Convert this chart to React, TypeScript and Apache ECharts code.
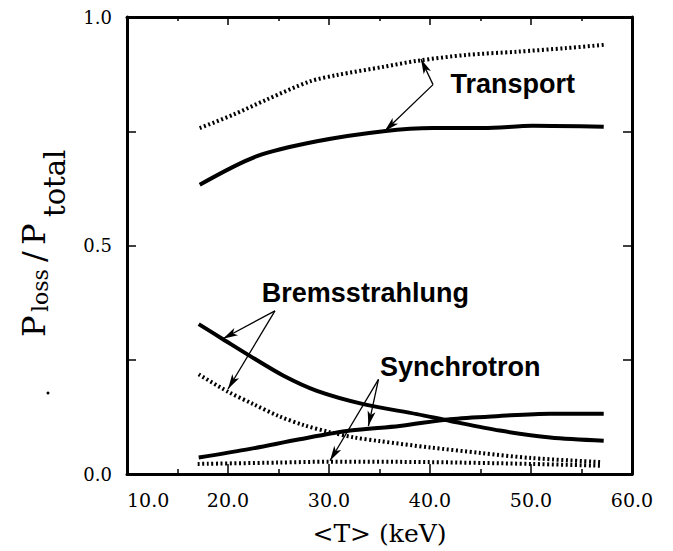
import React, { useEffect, useRef } from "react";
import * as echarts from "echarts";

// ---- data (x = <T> in keV, y = P_loss / P_total) ----
const transportDottedX = [17.2, 20.5, 23.8, 28.1, 30.8, 35.4, 38.7, 43.6, 48.6, 53.5, 57.2];
const transportDottedY = [0.757, 0.786, 0.819, 0.859, 0.873, 0.891, 0.904, 0.917, 0.924, 0.932, 0.939];

const transportSolidX = [17.2, 22.8, 28.8, 35.4, 40.3, 45.3, 50.2, 57.2];
const transportSolidY = [0.633, 0.695, 0.728, 0.75, 0.757, 0.757, 0.762, 0.76];

const bremsSolidX = [17.1, 19.5, 22.2, 25.5, 28.8, 33.4, 38.7, 42.0, 46.9, 51.9, 57.2];
const bremsSolidY = [0.328, 0.295, 0.258, 0.215, 0.182, 0.153, 0.131, 0.116, 0.095, 0.08, 0.073];

const bremsDottedX = [17.1, 20, 22.5, 25, 27.5, 30, 32.5, 35, 40, 45, 50, 57];
const bremsDottedY = [0.218, 0.18, 0.153, 0.127, 0.107, 0.092, 0.08, 0.072, 0.058, 0.046, 0.035, 0.026];

const synchSolidX = [17.1, 22.2, 27.1, 32.1, 37.0, 42.0, 46.9, 51.9, 57.2];
const synchSolidY = [0.036, 0.055, 0.076, 0.095, 0.105, 0.12, 0.127, 0.132, 0.132];

const synchDottedX = [17, 25, 30, 40, 50, 57];
const synchDottedY = [0.022, 0.025, 0.027, 0.026, 0.022, 0.018];

const xTicks = [10, 20, 30, 40, 50, 60];
const yTickLabels = [0, 0.5, 1.0];

// annotation labels and their arrows (data coordinates)
const labelNames = ["Transport", "Bremsstrahlung", "Synchrotron"];
const labelX = [48.2, 33.6, 43.0];
const labelY = [0.854, 0.395, 0.234];
// arrows: [fromX, fromY, toX, toY]
const transportArrows = [
  [40.3, 0.852, 39.1, 0.908],
  [40.3, 0.852, 35.5, 0.75],
];
const bremsArrows = [
  [24.65, 0.357, 19.5, 0.296],
  [24.65, 0.357, 20.0, 0.186],
];
const synchArrows = [
  [34.9, 0.207, 33.9, 0.105],
  [34.9, 0.207, 30.1, 0.029],
];

const zip = (xs: number[], ys: number[]) => xs.map((x, i) => [x, ys[i]]);

const arrowMark = (arrows: number[][]) => ({
  silent: true,
  symbol: ["none", "arrow"],
  symbolSize: [6, 15],
  lineStyle: { color: "#000", width: 1.3, type: "solid" },
  label: { show: false },
  emphasis: { disabled: true },
  data: arrows.map((a) => [{ coord: [a[0], a[1]] }, { coord: [a[2], a[3]] }]),
});

const solid = (name: string, xs: number[], ys: number[], arrows?: number[][]) => ({
  name,
  type: "line",
  data: zip(xs, ys),
  symbol: "none",
  smooth: 0.3,
  lineStyle: { color: "#000", width: 4, type: "solid" },
  markLine: arrows ? arrowMark(arrows) : undefined,
});

const dotted = (name: string, xs: number[], ys: number[]) => ({
  name,
  type: "line",
  data: zip(xs, ys),
  symbol: "none",
  smooth: 0.3,
  lineStyle: { color: "#000", width: 4, type: [2, 2.6], cap: "butt" },
});

const serif = "'DejaVu Serif', 'Liberation Serif', serif";

export default function App() {
  const ref = useRef<HTMLDivElement>(null);
  useEffect(() => {
    if (!ref.current) return;
    const chart = echarts.init(ref.current, undefined, { renderer: "svg" });
    const frameLine = { show: true, onZero: false, lineStyle: { color: "#000", width: 3 } };
    const axisCommon = {
      type: "value",
      min: 10,
      max: 60,
      interval: 10,
      splitLine: { show: false },
      minorSplitLine: { show: false },
      axisLine: frameLine,
    };
    const yCommon = {
      type: "value",
      min: 0,
      max: 1,
      interval: 0.25,
      splitLine: { show: false },
      axisLine: frameLine,
      axisTick: { show: true, inside: true, length: 9, lineStyle: { color: "#000", width: 1.5 } },
    };
    chart.setOption({
      animation: false,
      backgroundColor: "#fff",
      grid: {
        left: 127,
        right: 41,
        top: 17,
        bottom: 76,
        show: false,
      },
      xAxis: [
        {
          ...axisCommon,
          position: "bottom",
          axisTick: { show: true, inside: true, length: 10, lineStyle: { color: "#000", width: 1.5 } },
          minorTick: { show: true, splitNumber: 2, length: 5, lineStyle: { color: "#000", width: 1.5 } },
          axisLabel: {
            color: "#000",
            fontFamily: serif,
            fontSize: 19,
            margin: 16,
            alignMinLabel: "left",
            formatter: (v: number) => (xTicks.includes(v) ? v.toFixed(1) : ""),
          },
          name: "<T> (keV)",
          nameLocation: "middle",
          nameGap: 47,
          nameTextStyle: { color: "#000", fontFamily: serif, fontSize: 25 },
        },
        {
          ...axisCommon,
          position: "top",
          axisTick: { show: true, inside: true, length: 8, lineStyle: { color: "#000", width: 1.5 } },
          minorTick: { show: true, splitNumber: 2, length: 4, lineStyle: { color: "#000", width: 1.5 } },
          axisLabel: { show: false },
        },
      ],
      yAxis: [
        {
          ...yCommon,
          position: "left",
          axisLabel: {
            color: "#000",
            fontFamily: serif,
            fontSize: 18,
            margin: 15,
            formatter: (v: number) =>
              yTickLabels.some((t) => Math.abs(t - v) < 1e-6) ? v.toFixed(1) : "",
          },
        },
        {
          ...yCommon,
          position: "right",
          axisLabel: { show: false },
        },
      ],
      series: [
        dotted("Transport (dotted)", transportDottedX, transportDottedY),
        solid("Transport", transportSolidX, transportSolidY, transportArrows),
        solid("Bremsstrahlung", bremsSolidX, bremsSolidY, bremsArrows),
        dotted("Bremsstrahlung (dotted)", bremsDottedX, bremsDottedY),
        solid("Synchrotron", synchSolidX, synchSolidY, synchArrows),
        dotted("Synchrotron (dotted)", synchDottedX, synchDottedY),
      ],
    });

    const labels = labelNames.map((text, i) => {
      const p = chart.convertToPixel({ gridIndex: 0 }, [labelX[i], labelY[i]]) as number[];
      return {
        type: "text",
        x: p[0],
        y: p[1],
        silent: true,
        style: {
          text,
          fill: "#000",
          fontFamily: "'Liberation Sans', Arial, sans-serif",
          fontWeight: "bold",
          fontSize: 27,
          align: "center",
          verticalAlign: "middle",
        },
      };
    });

    const t = (text: string, lx: number, ly: number, size: number) => ({
      type: "text",
      x: lx,
      y: ly,
      style: {
        text,
        fill: "#000",
        fontFamily: serif,
        fontSize: size,
        align: "left",
        verticalAlign: "middle",
      },
    });

    chart.setOption({
      graphic: [
        ...labels,
        {
          type: "group",
          x: 0,
          y: 337,
          rotation: Math.PI / 2,
          silent: true,
          children: [
            t("P", 0, 34, 32),
            t("loss", 25, 40, 22),
            t("/", 75, 34, 32),
            t("P", 92, 34, 32),
            t("total", 120, 55, 29),
          ],
        },
        {
          type: "circle",
          shape: { cx: 48, cy: 393, r: 1.5 },
          style: { fill: "#000" },
          silent: true,
        },
      ],
    });

    return () => chart.dispose();
  }, []);
  return (
    <div
      ref={ref}
      style={{ position: "absolute", left: 0, top: 0, width: 673, height: 551 }}
    />
  );
}
